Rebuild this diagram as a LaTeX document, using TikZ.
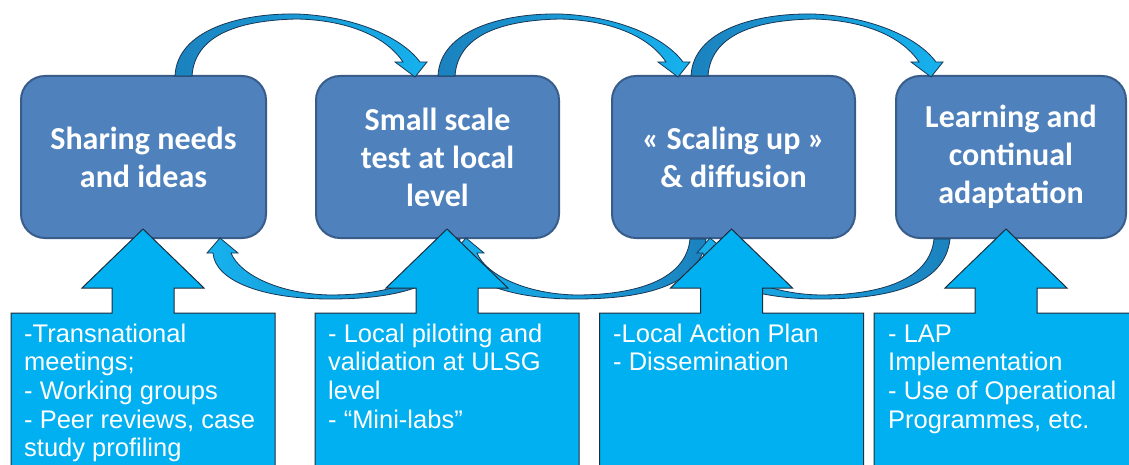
\documentclass[tikz,border=0pt]{standalone}
\usepackage{fontspec}
\newfontfamily\boxfont{Carlito}
\newfontfamily\callfont{Liberation Sans}
\definecolor{boxfill}{RGB}{79,129,189}
\definecolor{boxline}{RGB}{56,93,138}
\definecolor{callfill}{RGB}{0,176,240}
\definecolor{callline}{RGB}{30,45,60}
\definecolor{arrdark}{RGB}{27,130,190}
\definecolor{arrlight}{RGB}{22,178,238}
\definecolor{arrline}{RGB}{25,55,85}
\newcommand\mystrutA{\rule{0pt}{20pt}}
\begin{document}
\begin{tikzpicture}[x=1pt,y=-1pt,
  stage/.style={draw=boxline, line width=2pt, fill=boxfill, rounded corners=24pt,
    text=white, font=\boxfont\bfseries\fontsize{32}{38}\selectfont, align=center,
    inner sep=0pt, minimum height=162pt},
  callout/.style={draw=callline, line width=1pt, fill=callfill, line join=miter},
  calltext/.style={text=white, font=\callfont\fontsize{25.5}{28.6}\selectfont,
    align=left, anchor=north west, inner sep=0pt},
  curvearrow/.style={draw=arrline, line width=0.8pt, left color=arrdark, right color=arrlight},
  backarrow/.style={draw=arrline, line width=0.8pt, left color=arrlight, right color=arrdark}
]
\clip (0,0) rectangle (1129,465);
\fill[white] (0,0) rectangle (1129,465);

% stage boxes
\node[stage, minimum width=245pt] (b1) at (143.5,157) {Sharing needs\\and ideas};
\node[stage, minimum width=243pt] (b2) at (437.5,157) {Small scale\\test at local\\level};
\node[stage, minimum width=243pt] (b3) at (733.5,157) {« Scaling up »\\\& diffusion};
\node[stage, minimum width=230pt] (b4) at (1011,157) {Learning and\\continual\\adaptation};

% curved forward arrows (top)
\foreach \dx in {0,263,516}{
  \begin{scope}[xshift=\dx pt]
    \path[curvearrow] (175,76) .. controls (177,30) and (240,13) .. (297,14)
      .. controls (350,16) and (400,35) .. (420,62)
      -- (427,62) -- (415,77) -- (395,62) -- (403,62)
      .. controls (385,35) and (345,20) .. (297,19)
      .. controls (250,20) and (195,30) .. (192,76) -- cycle;
  \end{scope}
}

% curved backward arrows (bottom)
\foreach \dx in {0,246,490}{
  \begin{scope}[xshift=\dx pt]
    \path[backarrow] (460,239) .. controls (455,285) and (400,299) .. (330,299)
      .. controls (260,299) and (215,280) .. (213,253)
      -- (207,253) -- (220,238) -- (238,253) -- (231,253)
      .. controls (240,275) and (280,294) .. (330,295)
      .. controls (390,295) and (440,280) .. (444,239) -- cycle;
  \end{scope}
}

% up-arrow callouts
\foreach \cx in {143,447,731.5,1006}{
  \path[callout] ({\cx-132},313) -- ({\cx-31},313) -- ({\cx-31},288) -- ({\cx-61},288)
    -- (\cx,229) -- ({\cx+61},288) -- ({\cx+31},288) -- ({\cx+31},313)
    -- ({\cx+132},313) -- ({\cx+132},470) -- ({\cx-132},470) -- cycle;
}

\node[calltext] (t1) at (24,322) {\mystrutA-Transnational\\meetings;\\- Working groups\\- Peer reviews, case\\study profiling};
\node[calltext] (t2) at (328,322) {\mystrutA- Local piloting and\\validation at ULSG\\level\\- “Mini-labs”};
\node[calltext] (t3) at (613,322) {\mystrutA-Local Action Plan\\- Dissemination};
\node[calltext] (t4) at (888,322) {\mystrutA- LAP\\Implementation\\- Use of Operational\\Programmes, etc.};
\end{tikzpicture}
\end{document}
